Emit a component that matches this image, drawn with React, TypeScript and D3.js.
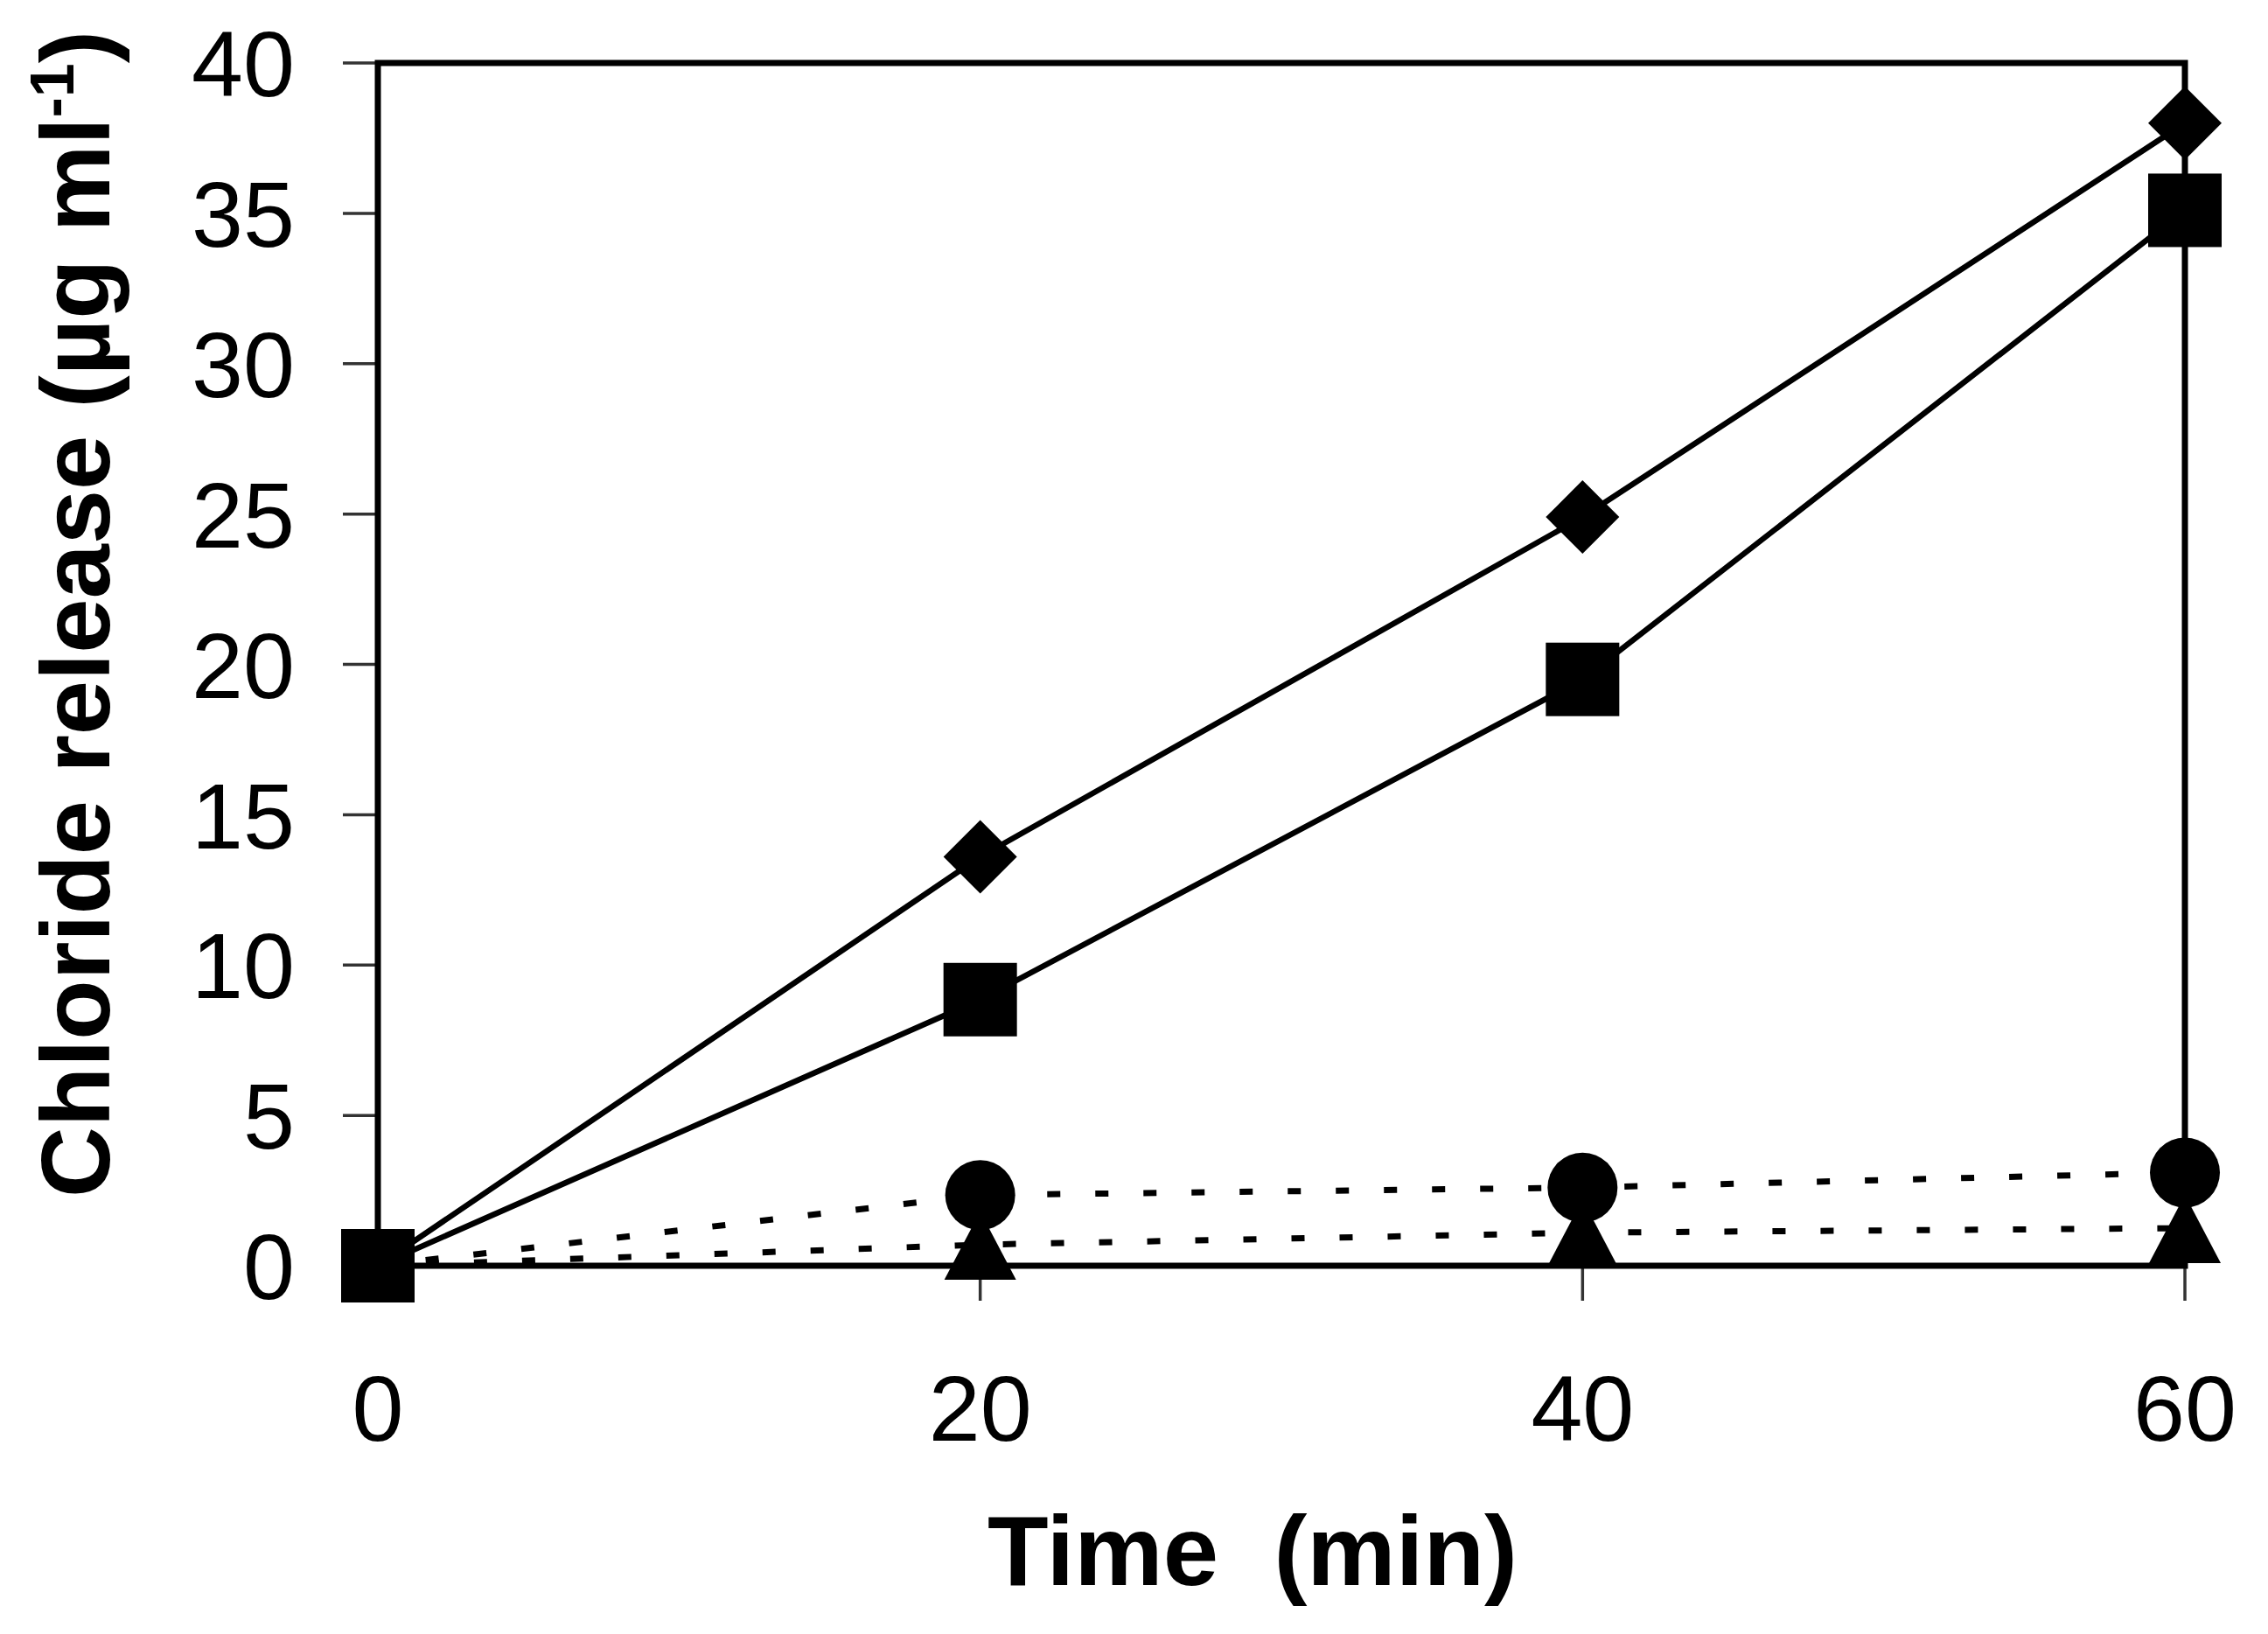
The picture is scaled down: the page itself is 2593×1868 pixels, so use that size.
import * as d3 from "d3";

// chloride release over time, four treatments
const times = [0, 20, 40, 60];
const diamondSeries = [0, 13.6, 24.9, 38.0];
const squareSeries = [0, 8.85, 19.5, 35.1];
const circleSeries = [0, 2.35, 2.6, 3.1];
const triangleSeries = [0, 0.7, 1.1, 1.25];

const xTicks = [0, 20, 40, 60];
const yTicks = [0, 5, 10, 15, 20, 25, 30, 35, 40];

const W = 2593;
const H = 1868;
const plot = { l: 432, r: 2498, t: 72, b: 1447 };
const font = "'Liberation Sans', Arial, sans-serif";

export default function App() {
  const x = d3.scaleLinear().domain([0, 60]).range([plot.l, plot.r]);
  const y = d3.scaleLinear().domain([0, 40]).range([plot.b, plot.t]);

  const line = d3
    .line<number>()
    .x((_, i) => x(times[i]))
    .y((d) => y(d));

  const pts = (vals: number[]) => vals.map((v, i) => [x(times[i]), y(v)] as [number, number]);

  return (
    <svg
      width={W}
      height={H}
      viewBox={`0 0 ${W} ${H}`}
      style={{ position: "absolute", left: 0, top: 0, background: "#fff" }}
    >
      <rect x={0} y={0} width={W} height={H} fill="#fff" />

      {/* ticks */}
      {yTicks.map((t) => (
        <g key={"y" + t}>
          <line x1={plot.l - 40} x2={plot.l} y1={y(t)} y2={y(t)} stroke="#333" strokeWidth={3.5} />
          <text
            x={337}
            y={y(t)}
            dy="0.36em"
            textAnchor="end"
            fontFamily={font}
            fontSize={106}
            fill="#000"
          >
            {t}
          </text>
        </g>
      ))}
      {xTicks.map((t) => (
        <g key={"x" + t}>
          <line x1={x(t)} x2={x(t)} y1={plot.b} y2={plot.b + 40} stroke="#333" strokeWidth={3.5} />
          <text x={x(t)} y={1647} textAnchor="middle" fontFamily={font} fontSize={106} fill="#000">
            {t}
          </text>
        </g>
      ))}

      {/* dotted series */}
      <path d={line(triangleSeries) ?? ""} fill="none" stroke="#000" strokeWidth={7} strokeDasharray="15 40" />
      <path d={line(circleSeries) ?? ""} fill="none" stroke="#000" strokeWidth={7} strokeDasharray="15 40" />
      {/* solid series */}
      <path d={line(squareSeries) ?? ""} fill="none" stroke="#000" strokeWidth={6.5} />
      <path d={line(diamondSeries) ?? ""} fill="none" stroke="#000" strokeWidth={6.5} />

      {/* frame */}
      <rect
        x={plot.l}
        y={plot.t}
        width={plot.r - plot.l}
        height={plot.b - plot.t}
        fill="none"
        stroke="#000"
        strokeWidth={7}
      />

      {/* markers */}
      {pts(triangleSeries).map(([px, py], i) => (
        <path key={"tri" + i} d={`M${px},${py - 38}L${px + 41},${py + 40}L${px - 41},${py + 40}Z`} fill="#000" />
      ))}
      {pts(circleSeries).map(([px, py], i) => (
        <circle key={"cir" + i} cx={px} cy={py} r={40} fill="#000" />
      ))}
      {pts(diamondSeries).map(([px, py], i) => (
        <path key={"dia" + i} d={`M${px},${py - 42}L${px + 42},${py}L${px},${py + 42}L${px - 42},${py}Z`} fill="#000" />
      ))}
      {pts(squareSeries).map(([px, py], i) => (
        <rect key={"sq" + i} x={px - 42} y={py - 42} width={84} height={84} fill="#000" />
      ))}

      {/* axis titles */}
      <text
        x={1432}
        y={1812}
        textAnchor="middle"
        fontFamily={font}
        fontWeight="bold"
        fontSize={114}
        fill="#000"
        style={{ whiteSpace: "pre" }}
      >
        {"Time  (min)"}
      </text>
      <text
        transform="translate(125,702) rotate(-90)"
        textAnchor="middle"
        fontFamily={font}
        fontWeight="bold"
        fontSize={112}
        fill="#000"
      >
        Chloride release (µg ml
        <tspan dy={-41} fontSize={70}>-1</tspan>
        <tspan dy={41}>)</tspan>
      </text>
    </svg>
  );
}
